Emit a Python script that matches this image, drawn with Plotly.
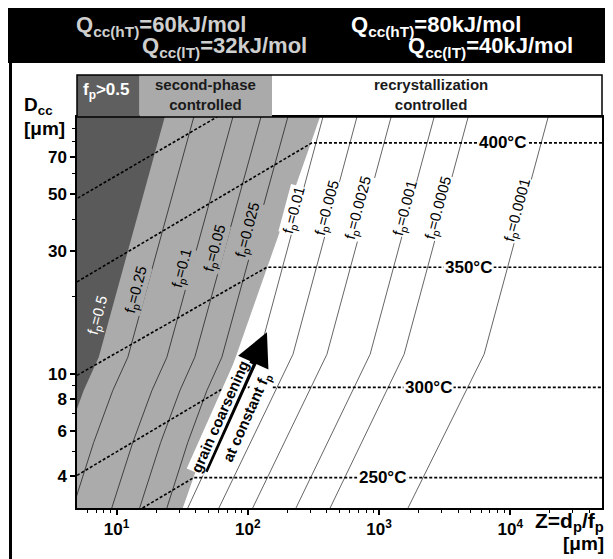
import numpy as np
import plotly.graph_objects as go

# ---------------- data ----------------
Z_RANGE = [5, 5e4]          # Z = dp/fp [um]
D_RANGE = [3, 100]          # Dcc [um]

# boundary between second-phase controlled and recrystallization controlled
BOUND_Z = [355, 32]
BOUND_D = [100, 3]

# constant-fp lines inside the second-phase region
GRAY_FP = ["0.5", "0.25", "0.1", "0.05", "0.025"]
GRAY_D = [100, 11.6, 8.6, 5.4, 3.0]
GRAY_Z = {
    "0.5":   [23.3, 7.32, 5.62, 4.03, 2.79],
    "0.25":  [38.8, 12.2, 9.36, 6.70, 4.64],
    "0.1":   [77.0, 24.2, 18.6, 13.3, 9.2],
    "0.05":  [126, 39.5, 30.4, 21.7, 15.0],
    "0.025": [202, 63.5, 48.8, 34.9, 24.2],
}
# constant-fp lines inside the recrystallization region
WHITE_FP = ["0.01", "0.005", "0.0025", "0.001", "0.0005", "0.0001"]
WHITE_D = [100, 11.9, 3.0]
WHITE_Z = {
    "0.01":   [374, 122, 34.9],
    "0.005":  [679, 221, 60.3],
    "0.0025": [1236, 401, 109],
    "0.001":  [2630, 855, 233],
    "0.0005": [4775, 1553, 424],
    "0.0001": [19450, 6320, 1663],
}
# label anchor points of the fp lines (Z, D)
FP_LABEL_Z = {"0.5": 7.2, "0.25": 14.3, "0.1": 31.4, "0.05": 56.1, "0.025": 100,
              "0.01": 225, "0.005": 401, "0.0025": 692, "0.001": 1580,
              "0.0005": 2820, "0.0001": 11300}
FP_LABEL_D = {"0.5": 16.9, "0.25": 21.2, "0.1": 25.8, "0.05": 30.8, "0.025": 36.2,
              "0.01": 43.4, "0.005": 44.2, "0.0025": 44.2, "0.001": 44.2,
              "0.0005": 44.2, "0.0001": 43.4}

# isotherms (dashed)
ISO_NAMES = ["450", "400", "350", "300", "250"]
ISO_Z = {"450": [5.06, 58.2], "400": [5, 308, 5e4], "350": [5, 140, 5e4],
         "300": [5, 67, 5e4], "250": [15.8, 38.8, 5e4]}
ISO_D = {"450": [48.3, 100], "400": [22.8, 79.3, 79.3], "350": [9.86, 26.0, 26.0],
         "300": [4.02, 8.85, 8.85], "250": [3.0, 3.94, 3.94]}
ISO_LABEL_Z = {"400": 8670, "350": 4780, "300": 2365, "250": 1055}

# arrow "grain coarsening at constant fp"
ARROW_Z = [46.2, 140]
ARROW_D = [4.13, 14.5]

# header band boundaries (Z)
BAND_Z = [15.0, 153]

X_TICKS = [10, 100, 1000, 10000]
X_TICKTEXT = ["<b>10<sup>1</sup></b>", "<b>10<sup>2</sup></b>",
              "<b>10<sup>3</sup></b>", "<b>10<sup>4</sup></b>"]
Y_TICKS = [4, 6, 8, 10, 30, 50, 70]
X_MINOR = [6, 7, 8, 9, 20, 30, 40, 50, 60, 70, 80, 90, 200, 300, 400, 500, 600,
           700, 800, 900, 2000, 3000, 4000, 5000, 6000, 7000, 8000, 9000,
           20000, 30000, 40000]
Y_MINOR = [5, 7, 9, 20, 40, 60, 80, 90]

# ---------------- figure ----------------
OFF = 8                      # page body margin
W, H = 613 - OFF, 559 - OFF
ML, MR, MT, MB = 69, 11, 109, 51
PW, PH = W - ML - MR, H - MT - MB
FONT = "Liberation Sans, Arial, sans-serif"

def pxx(px):   # page pixel -> paper x
    return (px - OFF - ML) / PW

def pxy(py):   # page pixel -> paper y
    return (H - MB - (py - OFF)) / PH

lx0, lx1 = np.log10(Z_RANGE)
def zpaper(z):
    return (np.log10(z) - lx0) / (lx1 - lx0)

DARK = "#5a5a5a"
LIGHT = "#ababab"
fig = go.Figure()

# light (second-phase) region
zl = Z_RANGE[0] / 2
fig.add_trace(go.Scatter(x=BOUND_Z + [zl, zl], y=BOUND_D + [D_RANGE[0], D_RANGE[1]],
                         fill="toself", fillcolor=LIGHT, mode="lines",
                         line=dict(width=0, color=LIGHT), hoverinfo="skip"))
# dark (fp>0.5) region
fig.add_trace(go.Scatter(x=GRAY_Z["0.5"] + [zl, zl], y=GRAY_D + [D_RANGE[0], D_RANGE[1]],
                         fill="toself", fillcolor=DARK, mode="lines",
                         line=dict(width=0, color=DARK), hoverinfo="skip"))

# fp lines
for k in GRAY_FP[1:]:
    fig.add_trace(go.Scatter(x=GRAY_Z[k], y=GRAY_D, mode="lines",
                             line=dict(color="#404040", width=1), hoverinfo="skip"))
for k in WHITE_FP:
    fig.add_trace(go.Scatter(x=WHITE_Z[k], y=WHITE_D, mode="lines",
                             line=dict(color="#666666", width=1), hoverinfo="skip"))
# isotherms
for k in ISO_NAMES:
    fig.add_trace(go.Scatter(x=ISO_Z[k], y=ISO_D[k], mode="lines",
                             line=dict(color="black", width=1.6, dash="3px,2px"),
                             hoverinfo="skip"))

ann = []
# fp labels
for k in GRAY_FP + WHITE_FP:
    if k == "0.5":
        col, bg = "white", "rgba(0,0,0,0)"
    elif k in GRAY_FP:
        col, bg = "black", LIGHT
    else:
        col, bg = "black", "white"
    ann.append(dict(x=np.log10(FP_LABEL_Z[k]), y=np.log10(FP_LABEL_D[k]), xref="x", yref="y",
                    text="f<sub>p</sub>=" + k, showarrow=False, textangle=-75,
                    xanchor="center", yanchor="middle",
                    font=dict(family=FONT, size=15, color=col), bgcolor=bg, borderpad=0))
# isotherm labels
for k, z in ISO_LABEL_Z.items():
    ann.append(dict(x=np.log10(z), y=np.log10(ISO_D[k][-1]), xref="x", yref="y",
                    text="<b>%s°C</b>" % k, showarrow=False,
                    xanchor="center", yanchor="middle",
                    font=dict(family=FONT, size=17, color="black"),
                    bgcolor="white", borderpad=1))
# arrow
ann.append(dict(x=np.log10(ARROW_Z[1]), y=np.log10(ARROW_D[1]), xref="x", yref="y",
                ax=np.log10(ARROW_Z[0]), ay=np.log10(ARROW_D[0]), axref="x", ayref="y",
                text="", showarrow=True, arrowhead=2, arrowsize=0.95, arrowwidth=7,
                arrowcolor="black", standoff=0, startstandoff=0))
ann.append(dict(x=np.log10(61.0), y=np.log10(6.83), xref="x", yref="y",
                text="<b>grain coarsening</b>", showarrow=False, textangle=-66,
                xanchor="center", yanchor="middle",
                font=dict(family=FONT, size=15, color="black"), bgcolor="white", borderpad=0))
ann.append(dict(x=np.log10(98.5), y=np.log10(6.77), xref="x", yref="y",
                text="<b>at constant f<sub>p</sub></b>", showarrow=False, textangle=-66,
                xanchor="center", yanchor="middle",
                font=dict(family=FONT, size=15, color="black"), bgcolor="white", borderpad=0))

def pann(text, x, y, size, color, xanchor="center"):
    ann.append(dict(x=pxx(x), y=pxy(y), xref="paper", yref="paper", xanchor=xanchor,
                    yanchor="middle", text=text, showarrow=False,
                    font=dict(family=FONT, size=size, color=color)))

# band texts
pann("<b>f<sub>p</sub>>0.5</b>", 106, 91, 17, "white")
pann("<b>second-phase<br>controlled</b>", 205, 94, 15, "#1a1a1a")
pann("<b>recrystallization<br>controlled</b>", 431, 94, 15, "#1a1a1a")

# header texts
pann("<b>Q<sub>cc(hT)</sub>=60kJ/mol</b>", 74, 26, 22, "#cfcfcf", "left")
pann("<b>Q<sub>cc(lT)</sub>=32kJ/mol</b>", 140, 47, 22, "#cfcfcf", "left")
pann("<b>Q<sub>cc(hT)</sub>=80kJ/mol</b>", 349, 26, 22, "white", "left")
pann("<b>Q<sub>cc(lT)</sub>=40kJ/mol</b>", 406, 47, 22, "white", "left")

# axis titles
pann("<b>D<sub>cc</sub></b>", 22, 106, 19, "black", "left")
pann("<b>[μm]</b>", 22, 128, 19, "black", "left")
pann("<b>Z=d<sub>p</sub>/f<sub>p</sub></b>", 606, 522, 21, "black", "right")
pann("<b>[μm]</b>", 606, 543, 19, "black", "right")

shapes = [
    # black header strip
    dict(type="rect", xref="paper", yref="paper", x0=pxx(-5), x1=pxx(620),
         y0=pxy(63), y1=pxy(0), fillcolor="black", line=dict(width=0)),
    # left black frame line
    dict(type="rect", xref="paper", yref="paper", x0=pxx(9), x1=pxx(12),
         y0=pxy(565), y1=pxy(8), fillcolor="black", line=dict(width=0)),
    # band fills
    dict(type="rect", xref="paper", yref="paper", x0=0, x1=zpaper(BAND_Z[0]),
         y0=1, y1=pxy(75), fillcolor="#5f5f5f", line=dict(width=0)),
    dict(type="rect", xref="paper", yref="paper", x0=zpaper(BAND_Z[0]), x1=zpaper(BAND_Z[1]),
         y0=1, y1=pxy(75), fillcolor="#aaaaaa", line=dict(width=0)),
    dict(type="rect", xref="paper", yref="paper", x0=0, x1=1,
         y0=1, y1=pxy(75), fillcolor="rgba(0,0,0,0)", line=dict(width=1.5, color="black")),
]

fig.update_layout(
    width=W, height=H, margin=dict(l=ML, r=MR, t=MT, b=MB),
    paper_bgcolor="white", plot_bgcolor="white", showlegend=False,
    annotations=ann, shapes=shapes,
    xaxis=dict(type="log", range=[lx0, lx1], tickvals=X_TICKS, ticktext=X_TICKTEXT,
               ticks="outside", ticklen=5, tickwidth=1.5, tickcolor="black",
               showline=True, linecolor="black", linewidth=1.5, mirror=True,
               showgrid=False, zeroline=False, automargin=False,
               tickfont=dict(family=FONT, size=17, color="black"),
               minor=dict(tickvals=X_MINOR, ticks="outside", ticklen=3, tickwidth=1,
                          tickcolor="black", showgrid=False)),
    yaxis=dict(type="log", range=list(np.log10(D_RANGE)), tickvals=Y_TICKS,
               ticktext=["<b>%d</b>" % v for v in Y_TICKS],
               ticks="outside", ticklen=5, tickwidth=1.5, tickcolor="black",
               showline=True, linecolor="black", linewidth=1.5, mirror=True,
               showgrid=False, zeroline=False, automargin=False,
               tickfont=dict(family=FONT, size=17, color="black"),
               minor=dict(tickvals=Y_MINOR, ticks="outside", ticklen=3, tickwidth=1,
                          tickcolor="black", showgrid=False)),
)

fig.write_html("out.html")
